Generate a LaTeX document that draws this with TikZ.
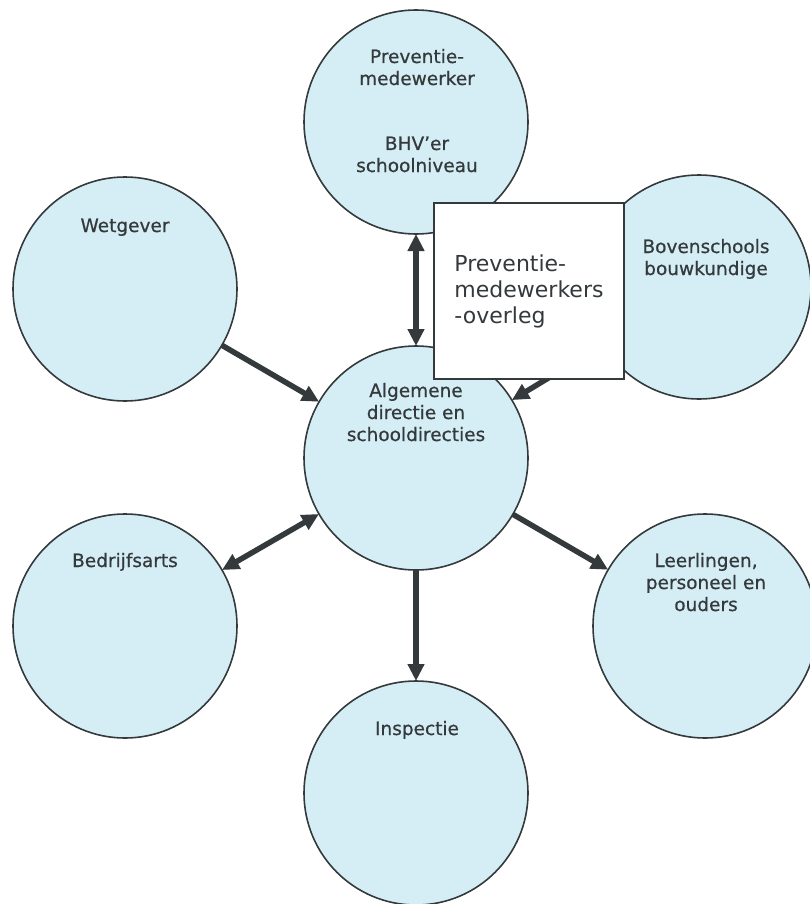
\documentclass[tikz,border=0pt]{standalone}
\usepackage{fontspec}
\setmainfont{DejaVu Sans}
\newfontfamily\circfont{DejaVu Sans}[FakeBold=0.6]
\usetikzlibrary{arrows.meta}
\definecolor{bubble}{RGB}{213,238,245}
\definecolor{ink}{RGB}{52,57,60}
\tikzset{
  bub/.style={circle, draw=ink, line width=1.6pt, fill=bubble, minimum size=224pt, inner sep=0pt, outer sep=0pt},
  lbl/.style={anchor=base, align=center, text=ink, inner sep=0pt, font=\circfont\fontsize{18.5}{22}\selectfont},
  conn/.style={draw=ink, line width=5.5pt},
  tip/.tip={Triangle[length=17pt,width=16pt]},
  boxnode/.style={rectangle, draw=ink, line width=1.6pt, fill=white, minimum width=190pt, minimum height=176pt, inner sep=0pt, align=left, text=ink, font=\fontsize{22}{26}\selectfont}
}
\begin{document}
\begin{tikzpicture}[x=1pt,y=-1pt]
\useasboundingbox (0,0) rectangle (809,904);
% circles
\node[bub] (top) at (416,122) {};
\node[bub] (wet) at (125,289) {};
\node[bub] (bov) at (699,287) {};
\node[bub] (ctr) at (416,458) {};
\node[bub] (bed) at (125,626) {};
\node[bub] (lee) at (705,626) {};
\node[bub] (ins) at (416,793) {};
% connectors
\draw[conn, {tip}-{tip}] (top) -- (ctr);
\draw[conn, -{tip}] (wet) -- (ctr);
\draw[conn, -{tip}] (bov) -- (ctr);
\draw[conn, {tip}-{tip}] (bed) -- (ctr);
\draw[conn, -{tip}] (ctr) -- (lee);
\draw[conn, -{tip}] (ctr) -- (ins);
% box
\node[boxnode] (box) at (529,291) {Preventie-\\medewerkers\\-overleg};
% labels (anchor base = last line)
\node[lbl] (ltop1) at (417,85) {Preventie-\\medewerker};
\node[lbl] (ltop2) at (417,172) {BHV’er\\schoolniveau};
\node[lbl] (lwet) at (125,232) {Wetgever};
\node[lbl] (lbov) at (706,275) {Bovenschools\\bouwkundige};
\node[lbl] (lctr) at (416,441) {Algemene\\directie en\\schooldirecties};
\node[lbl] (lbed) at (125,567) {Bedrijfsarts};
\node[lbl] (llee) at (706,611) {Leerlingen,\\personeel en\\ouders};
\node[lbl] (lins) at (417,735) {Inspectie};
\end{tikzpicture}
\end{document}
